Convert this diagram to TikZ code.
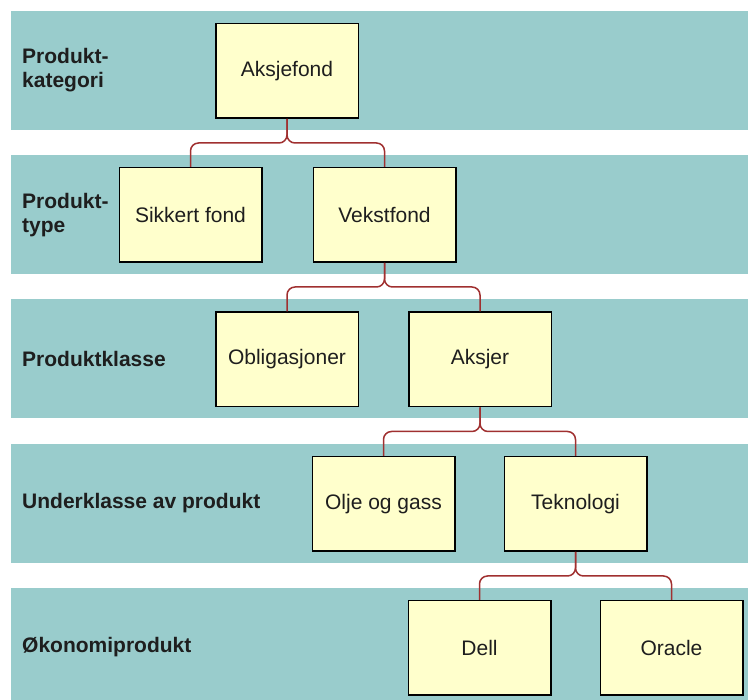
\documentclass[tikz,border=0pt]{standalone}
\usepackage{fontspec}
\setmainfont{Liberation Sans}
\definecolor{bandgreen}{RGB}{153,204,204}
\definecolor{boxyellow}{RGB}{255,255,204}
\definecolor{linkred}{RGB}{160,48,48}
\definecolor{textgrey}{RGB}{30,30,30}
\tikzset{
  band/.style={fill=bandgreen},
  unit/.style={draw=black,line width=1.5pt,fill=boxyellow,minimum width=142.5pt,
    minimum height=94.5pt,inner sep=0pt,font=\fontsize{21}{25}\selectfont,text=textgrey},
  lvl/.style={anchor=west,align=left,inner sep=0pt,font=\bfseries\fontsize{21}{24}\selectfont,text=textgrey},
  link/.style={draw=linkred,line width=1.5pt,rounded corners=8pt}
}
\begin{document}
\begin{tikzpicture}[x=1pt,y=-1pt]
  \useasboundingbox (0,0) rectangle (748,700);
  \foreach \i in {0,...,4}
    \fill[band] (11,{11+144.25*\i}) rectangle (748,{130+144.25*\i});

  \node[lvl] (lkategori) at (22,70.5) {Produkt-\\kategori};
  \node[lvl] (ltype) at (22,214.75) {Produkt-\\type};
  \node[lvl] (lklasse) at (22,359) {Produktklasse};
  \node[lvl] (lunder) at (22,503.25) {Underklasse av produkt};
  \node[lvl] (lokonomi) at (22,647.5) {Økonomiprodukt};

  \node[unit] (aksjefond) at (287,71) {Aksjefond};
  \node[unit] (sikkert) at (190.5,215) {Sikkert fond};
  \node[unit] (vekst) at (384.5,215) {Vekstfond};
  \node[unit] (oblig) at (287,359.5) {Obligasjoner};
  \node[unit] (aksjer) at (480,359.5) {Aksjer};
  \node[unit] (olje) at (383.5,504) {Olje og gass};
  \node[unit] (tekno) at (575.5,504) {Teknologi};
  \node[unit] (dell) at (479.5,648) {Dell};
  \node[unit] (oracle) at (671.5,648) {Oracle};

  \draw[link] (aksjefond.south) -- ++(0,24) -| (sikkert.north);
  \draw[link] (aksjefond.south) -- ++(0,24) -| (vekst.north);
  \draw[link] (vekst.south) -- ++(0,24) -| (oblig.north);
  \draw[link] (vekst.south) -- ++(0,24) -| (aksjer.north);
  \draw[link] (aksjer.south) -- ++(0,24) -| (olje.north);
  \draw[link] (aksjer.south) -- ++(0,24) -| (tekno.north);
  \draw[link] (tekno.south) -- ++(0,24) -| (dell.north);
  \draw[link] (tekno.south) -- ++(0,24) -| (oracle.north);
\end{tikzpicture}
\end{document}
